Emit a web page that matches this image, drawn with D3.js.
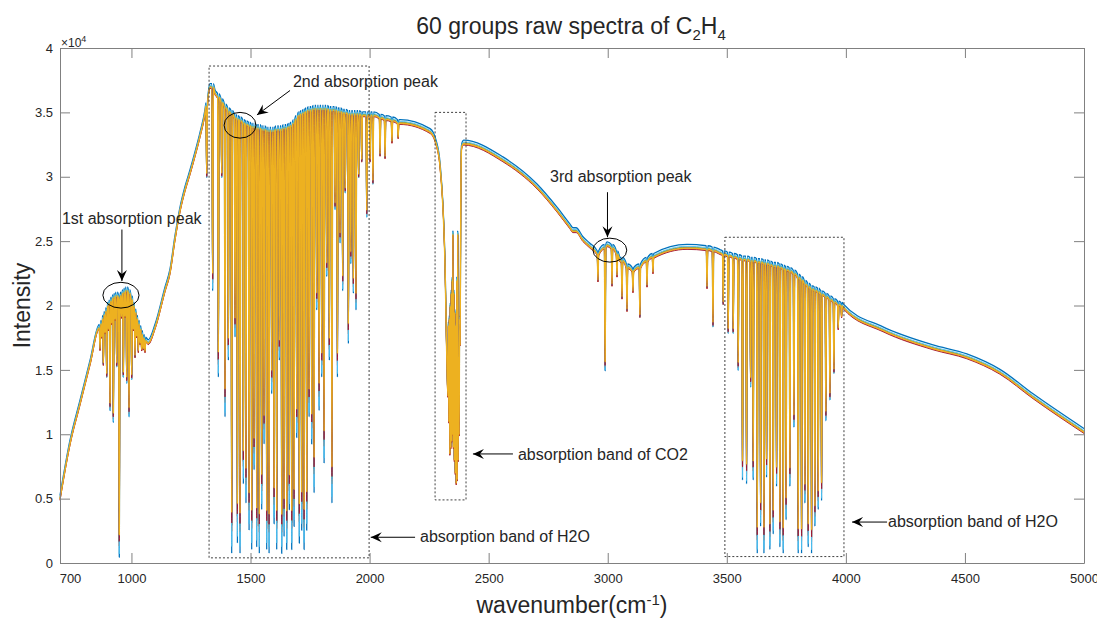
<!DOCTYPE html>
<html>
<head>
<meta charset="utf-8">
<script src="https://cdn.jsdelivr.net/npm/d3@7"></script>
<style>
body { margin: 0; background: #fff; }
text { font-family: "Liberation Sans", Arial, Helvetica, sans-serif; fill: #262626; }
</style>
</head>
<body>
<svg id="chart" width="1097" height="619"></svg>
<script>
// all intensities are in units of 10^4

// upper envelope of the spectra: [wavenumber, intensity]
var envelope = [
	[700, 0.50], [742, 0.93], [784, 1.24], [826, 1.55], [868, 1.83], [889, 1.94],
	[910, 2.04], [935, 2.10], [948, 2.02], [960, 2.08], [981, 2.12], [994, 2.07],
	[1023, 1.89], [1057, 1.73], [1070, 1.71], [1099, 1.83], [1141, 2.12], [1162, 2.26],
	[1183, 2.52], [1204, 2.74], [1225, 2.90], [1246, 3.03], [1267, 3.17], [1288, 3.32],
	[1309, 3.50], [1330, 3.70], [1342, 3.72],
	[1351, 3.65], [1393, 3.54], [1456, 3.44], [1519, 3.39], [1582, 3.36], [1666, 3.39],
	[1708, 3.49], [1792, 3.53], [1855, 3.52], [1918, 3.49], [2002, 3.48], [2128, 3.42],
	[2254, 3.35], [2279, 3.26], [2296, 3.08], [2390, 3.25], [2395, 3.26],
	[2560, 3.13], [2703, 2.92], [2787, 2.74], [2841, 2.61], [2854, 2.58], [2867, 2.58],
	[2896, 2.51], [2925, 2.46], [2955, 2.41], [2997, 2.47], [3052, 2.35], [3106, 2.25],
	[3190, 2.38], [3333, 2.45], [3471, 2.41], [3610, 2.35], [3753, 2.28], [3891, 2.10],
	[3988, 1.99], [4156, 1.81], [4366, 1.67], [4508, 1.60], [4647, 1.48], [4786, 1.29],
	[5000, 1.02]
];

// CO2 band, fine structure: [wavenumber, intensity]
var co2Band = [
	[2317, 2.30], [2322, 1.80], [2326, 1.45], [2329, 1.30], [2331, 1.85], [2333, 1.10],
	[2335, 1.90], [2337, 0.85], [2339, 2.00], [2341, 0.90], [2343, 2.10], [2345, 0.95],
	[2347, 2.20], [2349, 1.00], [2350, 2.56], [2352, 0.90], [2354, 2.10], [2356, 0.80],
	[2358, 1.95], [2360, 0.70], [2362, 1.85], [2364, 0.62], [2366, 2.20], [2368, 0.65],
	[2370, 2.56], [2372, 0.80], [2374, 1.60], [2376, 1.00], [2378, 1.90], [2380, 1.70],
	[2383, 2.80], [2386, 3.22]
];

// absorption lines: [wavenumber, top, bottom]
var c2h4LinesLow = [
	[868, 1.83, 1.65], [875, 1.86, 1.75], [882, 1.90, 1.52], [889, 1.93, 1.78],
	[896, 1.96, 1.42], [903, 2.00, 1.80], [910, 2.02, 1.16], [917, 2.04, 1.85],
	[924, 2.06, 1.07], [931, 2.07, 1.88], [938, 2.08, 1.50], [949, 2.05, 0.02],
	[958, 2.08, 1.90], [966, 2.10, 1.42], [973, 2.11, 1.90], [980, 2.12, 1.37],
	[990, 2.10, 1.11], [1001, 2.05, 1.40], [1008, 2.00, 1.80], [1015, 1.95, 1.58],
	[1022, 1.90, 1.75], [1029, 1.86, 1.63], [1036, 1.82, 1.70], [1043, 1.78, 1.65],
	[1050, 1.75, 1.66], [1057, 1.73, 1.64]
];

var h2oLinesLow = [
	[1316, 3.55, 2.97], [1341, 3.70, 2.09], [1365, 3.62, 1.42], [1379, 3.58, 2.97],
	[1393, 3.54, 1.11], [1407, 3.51, 1.55], [1421, 3.49, 0.05], [1435, 3.46, 1.73],
	[1445, 3.45, 0.13], [1456, 3.44, 0.05], [1470, 3.42, 0.59], [1481, 3.41, 0.44],
	[1494, 3.40, 0.23], [1505, 3.39, 0.08], [1515, 3.39, 0.70], [1526, 3.38, 0.10],
	[1537, 3.38, 0.05], [1547, 3.37, 0.39], [1557, 3.37, 0.90], [1568, 3.36, 0.08],
	[1578, 3.36, 0.05], [1589, 3.36, 1.29], [1599, 3.36, 0.28], [1610, 3.37, 0.08],
	[1621, 3.37, 1.55], [1631, 3.37, 0.05], [1641, 3.38, 0.18], [1652, 3.38, 0.08],
	[1663, 3.39, 0.39], [1673, 3.40, 0.08], [1683, 3.42, 0.26], [1694, 3.45, 0.95],
	[1705, 3.48, 0.13], [1715, 3.49, 0.23], [1725, 3.50, 0.08], [1736, 3.51, 0.23],
	[1746, 3.52, 1.11], [1757, 3.52, 0.90], [1767, 3.53, 0.52], [1778, 3.53, 1.94],
	[1788, 3.53, 1.16], [1799, 3.53, 1.42], [1809, 3.53, 0.75], [1820, 3.53, 2.20],
	[1831, 3.52, 1.55], [1842, 3.52, 0.44], [1855, 3.52, 2.72], [1865, 3.51, 1.42],
	[1876, 3.51, 2.46], [1887, 3.50, 2.09], [1898, 3.50, 2.85], [1911, 3.49, 1.68],
	[1921, 3.49, 2.30], [1932, 3.49, 2.07], [1943, 3.49, 1.94], [1954, 3.49, 2.97],
	[1967, 3.48, 3.10], [1988, 3.48, 2.66], [2002, 3.48, 3.10]
];

var minorLines = [
	[2014, 3.48, 2.92], [2044, 3.46, 3.15], [2065, 3.45, 3.13], [2094, 3.44, 3.26],
	[2120, 3.42, 3.30]
];

var c2h4LinesHigh = [
	[2959, 2.40, 2.18], [2989, 2.45, 1.47], [3018, 2.45, 2.14], [3039, 2.40, 2.22],
	[3060, 2.35, 2.04], [3081, 2.30, 1.94], [3106, 2.27, 2.10], [3135, 2.30, 1.89],
	[3165, 2.35, 2.14], [3190, 2.38, 2.25], [3417, 2.44, 2.12], [3442, 2.43, 1.81]
];

var h2oLinesHigh = [
	[3485, 2.40, 1.99], [3506, 2.39, 1.76], [3527, 2.38, 1.76], [3548, 2.37, 1.47],
	[3566, 2.36, 0.62], [3583, 2.36, 0.59], [3600, 2.35, 1.34], [3611, 2.35, 0.62],
	[3628, 2.34, 0.05], [3642, 2.34, 0.26], [3656, 2.33, 0.05], [3667, 2.33, 0.64],
	[3681, 2.32, 0.08], [3695, 2.31, 0.20], [3709, 2.31, 0.57], [3723, 2.30, 0.10],
	[3737, 2.29, 0.05], [3749, 2.28, 0.31], [3765, 2.27, 0.57], [3782, 2.25, 1.03],
	[3800, 2.22, 0.05], [3814, 2.20, 0.05], [3828, 2.17, 0.44], [3842, 2.15, 0.10],
	[3856, 2.13, 0.05], [3870, 2.12, 0.26], [3884, 2.11, 0.39], [3898, 2.09, 0.46],
	[3916, 2.07, 1.08], [3933, 2.05, 1.24], [3950, 2.03, 1.45], [3968, 2.01, 1.81],
	[3982, 2.00, 1.91]
];

// groups, drawn in this order (MATLAB default colours)
var groupColors = ["#0072BD", "#D95319", "#7E2F8E", "#77AC30", "#4DBEEE", "#A2142F", "#EDB120"];
var groupShift  = [0.024, -0.010, 0.000, 0.004, 0.010, -0.014, -0.004];
var groupDepth  = [1.00, 0.94, 0.93, 0.93, 0.98, 0.92, 0.90];
var groupWidth  = [1.3, 0.9, 0.9, 0.9, 0.9, 0.9, 1.4];

var xTicks = [700, 1000, 1500, 2000, 2500, 3000, 3500, 4000, 4500, 5000];
var yTicks = [0, 0.5, 1, 1.5, 2, 2.5, 3, 3.5, 4];

// dashed boxes: [w1, w2, i1, i2]
var bands = [[1326, 1998, 0.04, 3.86], [2275, 2405, 0.49, 3.50], [3492, 3992, 0.05, 2.53]];
// circled peaks: [w, i, rx (cm-1), ry]
var peaks = [[956, 2.08, 76, 0.10], [1456, 3.40, 67, 0.10], [3009, 2.43, 71, 0.093]];
// arrows: [fromW, fromI, toW, toI]
var arrows = [
	[960, 2.59, 960, 2.19], [1666, 3.67, 1527, 3.48], [2999, 2.88, 2999, 2.53],
	[2602, 0.847, 2434, 0.847], [2191, 0.20, 2005, 0.20], [4173, 0.318, 4026, 0.318]
];
var labels = [
	["1st absorption peak", 708, 2.63], ["2nd absorption peak", 1678, 3.70],
	["3rd absorption peak", 2758, 2.96], ["absorption band of CO2", 2623, 0.80],
	["absorption band of H2O", 2212, 0.163], ["absorption band of H2O", 4177, 0.28]
];

var halfWidth = 3;

var svg = d3.select("#chart");
var plotLeft = 60, plotRight = 1084, plotTop = 48, plotBottom = 563;

var x = d3.scaleLinear().domain([700, 5000]).range([plotLeft, plotRight]);
var y = d3.scaleLinear().domain([0, 4]).range([plotBottom, plotTop]);

var buildSeries = function(g) {
	var lines = [].concat(c2h4LinesLow, h2oLinesLow, minorLines, c2h4LinesHigh, h2oLinesHigh);
	var pts = [];
	envelope.concat(co2Band).forEach(function(p) {
		var clash = lines.some(function(l) { return Math.abs(l[0] - p[0]) <= halfWidth + 1; });
		if (!clash) pts.push([p[0], p[1] + groupShift[g]]);
	});
	lines.forEach(function(l) {
		var low = l[1] - (l[1] - l[2]) * groupDepth[g] + groupShift[g];
		pts.push([l[0] - halfWidth, l[1] + groupShift[g]]);
		pts.push([l[0], Math.max(0.005, low)]);
		pts.push([l[0] + halfWidth, l[1] + groupShift[g]]);
	});
	pts.sort(function(a, b) { return a[0] - b[0]; });
	return pts;
};

var line = d3.line()
	.curve(d3.curveMonotoneX)
	.x(function(d) { return x(d[0]); })
	.y(function(d) { return y(d[1]); });

var plot = svg.append("g");
groupColors.forEach(function(c, g) {
	plot.append("path")
		.attr("d", line(buildSeries(g)))
		.attr("fill", "none")
		.attr("stroke", c)
		.attr("stroke-width", groupWidth[g])
		.attr("stroke-linejoin", "round");
});

/* axes with inward ticks */
var axisColor = "#808080";
var xAxis = svg.append("g")
	.attr("transform", "translate(0," + plotBottom + ")")
	.call(d3.axisBottom(x).tickValues(xTicks).tickSizeInner(-10).tickSizeOuter(0).tickPadding(8)
		.tickFormat(d3.format("d")));
xAxis.selectAll("text").attr("font-size", 13).attr("dy", "0.9em");
xAxis.selectAll(".tick").filter(function(d) { return d === 700; })
	.select("text").attr("x", 10);

var yAxis = svg.append("g")
	.attr("transform", "translate(" + plotLeft + ",0)")
	.call(d3.axisLeft(y).tickValues(yTicks).tickSizeInner(-10).tickSizeOuter(0).tickPadding(7)
		.tickFormat(function(d) { return String(d); }));
yAxis.selectAll("text").attr("font-size", 13);

svg.append("g")
	.attr("transform", "translate(0," + plotTop + ")")
	.call(d3.axisTop(x).tickValues(xTicks).tickSizeInner(-10).tickSizeOuter(0).tickFormat(""));
svg.append("g")
	.attr("transform", "translate(" + plotRight + ",0)")
	.call(d3.axisRight(y).tickValues(yTicks).tickSizeInner(-10).tickSizeOuter(0).tickFormat(""));

svg.selectAll(".domain, .tick line").attr("stroke", axisColor);
svg.selectAll(".tick text").attr("fill", "#262626");

svg.append("text")
	.attr("x", 61).attr("y", 47)
	.attr("font-size", 12)
	.text("×10")
	.append("tspan").attr("dy", -5).attr("font-size", 9).text("4");

/* title and axis labels */
var title = svg.append("text")
	.attr("x", 571).attr("y", 34)
	.attr("text-anchor", "middle")
	.attr("font-size", 23)
	.attr("fill", "#000");
title.append("tspan").text("60 groups raw spectra of C");
title.append("tspan").attr("dy", 6).attr("font-size", 15).text("2");
title.append("tspan").attr("dy", -6).text("H");
title.append("tspan").attr("dy", 6).attr("font-size", 15).text("4");

var xl = svg.append("text")
	.attr("x", 572).attr("y", 613)
	.attr("text-anchor", "middle")
	.attr("font-size", 23);
xl.append("tspan").text("wavenumber(cm");
xl.append("tspan").attr("dy", -8).attr("font-size", 15).text("-1");
xl.append("tspan").attr("dy", 8).text(")");

svg.append("text")
	.attr("transform", "translate(30," + ((plotTop + plotBottom) / 2) + ") rotate(-90)")
	.attr("text-anchor", "middle")
	.attr("font-size", 23)
	.text("Intensity");

/* annotations */
var defs = svg.append("defs");
defs.append("marker")
	.attr("id", "head")
	.attr("markerUnits", "userSpaceOnUse")
	.attr("markerWidth", 14).attr("markerHeight", 12)
	.attr("viewBox", "-12 -6 14 12")
	.attr("refX", 0).attr("refY", 0)
	.attr("orient", "auto")
	.append("path")
	.attr("d", "M0,0 L-11,-5 L-7,0 L-11,5 Z")
	.attr("fill", "#000");

svg.selectAll(".band")
	.data(bands)
	.enter()
	.append("rect")
	.attr("class", "band")
	.attr("x", function(d) { return x(d[0]); })
	.attr("y", function(d) { return y(d[3]); })
	.attr("width", function(d) { return x(d[1]) - x(d[0]); })
	.attr("height", function(d) { return y(d[2]) - y(d[3]); })
	.attr("fill", "none")
	.attr("stroke", "#404040")
	.attr("stroke-width", 1)
	.attr("stroke-dasharray", "2,2");

svg.selectAll(".peak")
	.data(peaks)
	.enter()
	.append("ellipse")
	.attr("class", "peak")
	.attr("cx", function(d) { return x(d[0]); })
	.attr("cy", function(d) { return y(d[1]); })
	.attr("rx", function(d) { return x(d[0] + d[2]) - x(d[0]); })
	.attr("ry", function(d) { return y(0) - y(d[3]); })
	.attr("fill", "none")
	.attr("stroke", "#000")
	.attr("stroke-width", 1);

svg.selectAll(".arrow")
	.data(arrows)
	.enter()
	.append("line")
	.attr("class", "arrow")
	.attr("x1", function(d) { return x(d[0]); })
	.attr("y1", function(d) { return y(d[1]); })
	.attr("x2", function(d) { return x(d[2]); })
	.attr("y2", function(d) { return y(d[3]); })
	.attr("stroke", "#000")
	.attr("stroke-width", 1)
	.attr("marker-end", "url(#head)");

svg.selectAll(".note")
	.data(labels)
	.enter()
	.append("text")
	.attr("class", "note")
	.attr("x", function(d) { return x(d[1]); })
	.attr("y", function(d) { return y(d[2]); })
	.attr("font-size", 16)
	.attr("fill", "#000")
	.text(function(d) { return d[0]; });
</script>
</body>
</html>
